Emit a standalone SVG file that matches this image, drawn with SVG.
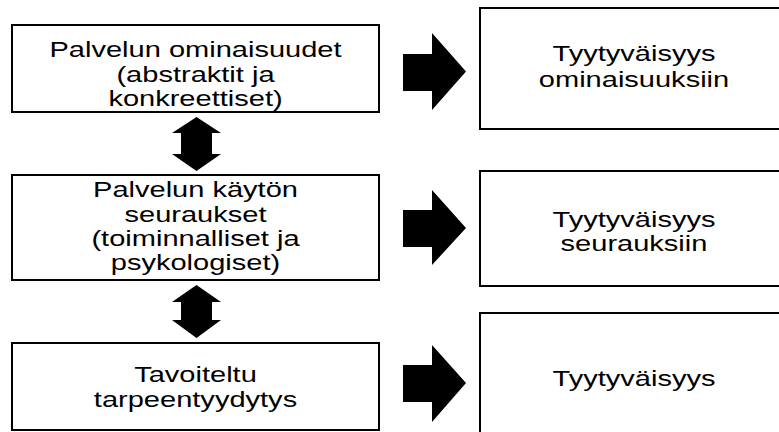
<svg xmlns="http://www.w3.org/2000/svg" width="779" height="432" viewBox="0 0 779 432">
<style>
.box{fill:#fff;stroke:#000;stroke-width:2}
.arr{fill:#000;stroke:none}
text{font-family:"Liberation Sans",Arial,sans-serif;font-size:22px;fill:#000;text-anchor:middle}
</style>
<rect x="0" y="0" width="779" height="432" fill="#fff"/>
<g id="connectors">
<polygon class="arr" points="196.5,117 221,133 212,133 212,154 221,154 196.5,171 172,154 181,154 181,133 172,133"/>
<polygon class="arr" points="196.5,285 221,302 212,302 212,320 221,320 196.5,338 172,320 181,320 181,302 172,302"/>
<polygon class="arr" points="403,54 432,54 432,33 466,71.5 432,110 432,91 403,91"/>
<polygon class="arr" points="403,210 432,210 432,190 466,228 432,265 432,247 403,247"/>
<polygon class="arr" points="403,365 432,365 432,345 466,383 432,422 432,402 403,402"/>
</g>
<g id="n1">
<rect class="box" x="12" y="25" width="367" height="87"/>
<text transform="translate(195.5,57) scale(1.32,1)">Palvelun ominaisuudet</text>
<text transform="translate(195.5,82) scale(1.32,1)">(abstraktit ja</text>
<text transform="translate(195.5,106) scale(1.32,1)">konkreettiset)</text>
</g>
<g id="n2">
<rect class="box" x="12" y="175" width="367" height="105"/>
<text transform="translate(195.5,197) scale(1.32,1)">Palvelun käytön</text>
<text transform="translate(195.5,222) scale(1.32,1)">seuraukset</text>
<text transform="translate(195.5,246) scale(1.32,1)">(toiminnalliset ja</text>
<text transform="translate(195.5,270) scale(1.32,1)">psykologiset)</text>
</g>
<g id="n3">
<rect class="box" x="12" y="343" width="367" height="87"/>
<text transform="translate(195.5,382) scale(1.32,1)">Tavoiteltu</text>
<text transform="translate(195.5,407) scale(1.32,1)">tarpeentyydytys</text>
</g>
<g id="r1">
<rect class="box" x="480" y="8" width="320" height="121"/>
<text transform="translate(634,61) scale(1.32,1)">Tyytyväisyys</text>
<text transform="translate(634,87) scale(1.32,1)">ominaisuuksiin</text>
</g>
<g id="r2">
<rect class="box" x="480" y="171" width="320" height="115"/>
<text transform="translate(634,227) scale(1.32,1)">Tyytyväisyys</text>
<text transform="translate(634,251) scale(1.32,1)">seurauksiin</text>
</g>
<g id="r3">
<rect class="box" x="480" y="313" width="320" height="140"/>
<text transform="translate(634,386) scale(1.32,1)">Tyytyväisyys</text>
</g>
</svg>
